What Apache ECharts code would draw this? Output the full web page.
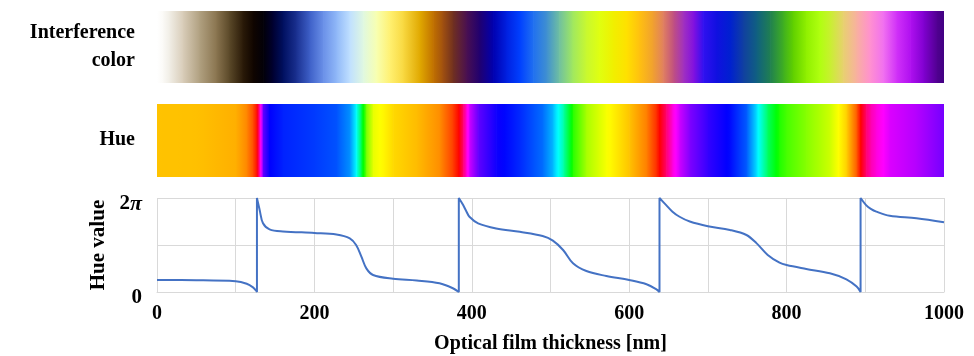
<!DOCTYPE html>
<html>
<head>
<meta charset="utf-8">
<title>Interference color and hue</title>
<script src="https://cdn.jsdelivr.net/npm/echarts@6/dist/echarts.min.js"></script>
<style>
  html, body { margin: 0; padding: 0; background: #ffffff; }
  #chart { width: 974px; height: 356px; }
</style>
</head>
<body>
<div id="chart"></div>
<script>
// hue value curve (thickness in nm, hue in radians)
const thickness = [
  0, 50, 100, 114, 122, 126, 127, 127, 130.5, 134.7, 143, 160, 200, 228, 245, 253, 259.7, 266, 274.5,
  300, 330, 359, 376, 383.5, 383.5, 389, 393, 397, 408, 431, 461, 490, 503, 516, 528.6, 545.6, 571,
  600, 622, 634.6, 638.5, 638.5, 647, 655, 664, 677, 700, 728, 749, 762, 776, 791, 800, 825, 855,
  876, 889, 894, 894, 901, 907, 914, 931, 965, 1000
];
const hueValue = [
  0.80, 0.79, 0.72, 0.55, 0.31, 0.09, 0, 6.28, 5.47, 4.59, 4.19, 4.05, 3.95, 3.85, 3.59, 3.14, 2.36, 1.58, 1.14,
  0.89, 0.77, 0.58, 0.25, 0, 6.28, 5.81, 5.40, 5.03, 4.59, 4.25, 4.02, 3.74, 3.43, 2.81, 1.92, 1.40, 1.07,
  0.80, 0.52, 0.18, 0, 6.28, 5.81, 5.37, 5.03, 4.71, 4.40, 4.15, 3.81, 3.25, 2.48, 1.96, 1.80, 1.54, 1.25,
  0.85, 0.36, 0, 6.28, 5.81, 5.56, 5.37, 5.09, 4.93, 4.66
];

// interference colour strip, colour stops along the thickness axis
const filmThickness = [
  0, 7, 16, 33, 54, 75, 92, 109, 122, 135, 147, 160, 177, 194, 211, 228, 245, 262, 279, 296,
  313, 334, 351, 363, 376, 393, 410, 427, 444, 461, 478, 495, 511, 528, 545, 562, 579, 597,
  613, 630, 643, 656, 669, 682, 694, 711, 728, 745, 762, 779, 796, 808, 825, 842, 855, 872,
  889, 906, 923, 940, 957, 974, 991, 1000
];
const filmColors = [
  '#ffffff', '#fbfaf7', '#f0ede5', '#d8ccb8', '#b0a080', '#8a7550', '#5a4828', '#2a1a08', '#100500', '#020008',
  '#000030', '#001060', '#1a3090', '#3e60c8', '#6a90e8', '#90b8f8', '#c0e0ff', '#e0f8e0', '#f8ffb0', '#fff070',
  '#f8d840', '#e0a800', '#c07000', '#a05010', '#703020', '#4a1050', '#200070', '#0000b0', '#0020e0', '#0040ff',
  '#2070f0', '#4090d0', '#70c0a0', '#a0e860', '#c8f830', '#e0ff10', '#f0f000', '#ffe000', '#ffc010', '#f0a030',
  '#e08060', '#c05080', '#a030c0', '#8010e0', '#3010f0', '#1010e0', '#0020d0', '#1040a0', '#106080', '#208050',
  '#40b020', '#60d000', '#90f000', '#b0ff10', '#c8f030', '#e8d070', '#f8b0a0', '#ff90d0', '#f070f0', '#d030f8',
  '#b010f0', '#8000d0', '#500090', '#400080'
];

const xTicks = [0, 200, 400, 600, 800, 1000];

const serif = '"Liberation Serif", "Times New Roman", serif';
const gridColor = '#d9d9d9';

function hueColor(rad) {
  const h = ((rad / (2 * Math.PI)) * 360) % 360;
  const f = (n) => {
    const k = (n + h / 30) % 12;
    const c = 0.5 - 0.5 * Math.max(-1, Math.min(k - 3, 9 - k, 1));
    return Math.round(c * 255);
  };
  return 'rgb(' + f(0) + ',' + f(8) + ',' + f(4) + ')';
}

// segments for the two colour strips
const filmSegments = [];
for (let i = 0; i < filmThickness.length - 1; i++) {
  filmSegments.push([filmThickness[i], filmThickness[i + 1], i]);
}
const hueSegments = [];
for (let i = 0; i < thickness.length - 1; i++) {
  if (thickness[i + 1] > thickness[i]) {
    hueSegments.push([thickness[i], thickness[i + 1], i]);
  }
}

function filmStops(i) {
  return [{ offset: 0, color: filmColors[i] }, { offset: 1, color: filmColors[i + 1] }];
}

function hueStops(i) {
  const stops = [];
  const steps = 6;
  for (let s = 0; s <= steps; s++) {
    const v = hueValue[i] + (hueValue[i + 1] - hueValue[i]) * (s / steps);
    stops.push({ offset: s / steps, color: hueColor(v) });
  }
  return stops;
}

function stripRenderer(stopsFor) {
  return function (params, api) {
    const a = api.coord([api.value(0), 1]);
    const b = api.coord([api.value(1), 0]);
    return {
      type: 'rect',
      shape: { x: a[0], y: a[1], width: b[0] - a[0] + 0.7, height: b[1] - a[1] },
      style: { fill: new echarts.graphic.LinearGradient(0, 0, 1, 0, stopsFor(api.value(2))) }
    };
  };
}

const hiddenX = (gridIndex) => ({ type: 'value', gridIndex, min: 0, max: 1000, show: false });
const hiddenY = (gridIndex) => ({ type: 'value', gridIndex, min: 0, max: 1, show: false });

const chart = echarts.init(document.getElementById('chart'));
chart.setOption({
  animation: false,
  backgroundColor: '#ffffff',
  grid: [
    { left: 157, right: 30, top: 11, height: 72, outerBoundsMode: 'none', containLabel: false },
    { left: 157, right: 30, top: 104, height: 73, outerBoundsMode: 'none', containLabel: false },
    { left: 157, right: 30, top: 198, height: 94, outerBoundsMode: 'none', containLabel: false }
  ],
  xAxis: [
    hiddenX(0),
    hiddenX(1),
    {
      type: 'value',
      gridIndex: 2,
      min: 0,
      max: 1000,
      interval: 100,
      name: 'Optical film thickness [nm]',
      nameLocation: 'middle',
      nameGap: 42,
      nameTextStyle: { fontFamily: serif, fontWeight: 'bold', fontSize: 20, color: '#000' },
      axisLine: { show: true, lineStyle: { color: gridColor, width: 1 } },
      axisTick: { show: false },
      axisLabel: {
        margin: 12,
        fontFamily: serif,
        fontWeight: 'bold',
        fontSize: 20,
        color: '#000',
        formatter: (v) => (xTicks.includes(v) ? String(v) : '')
      },
      splitLine: { show: true, lineStyle: { color: gridColor, width: 1 } }
    }
  ],
  yAxis: [
    hiddenY(0),
    hiddenY(1),
    {
      type: 'value',
      gridIndex: 2,
      min: 0,
      max: 6.2832,
      interval: 3.1416,
      name: 'Hue value',
      nameLocation: 'middle',
      nameGap: 48,
      nameTextStyle: { fontFamily: serif, fontWeight: 'bold', fontSize: 21, color: '#000' },
      axisLine: { show: false },
      axisTick: { show: false },
      axisLabel: {
        margin: 15,
        padding: [12, 0, 0, 0],
        fontFamily: serif,
        fontWeight: 'bold',
        fontSize: 21,
        color: '#000',
        formatter: (v) => (v === 0 ? '0' : v > 6 ? '2{p|π}' : ''),
        rich: {
          p: { fontFamily: serif, fontWeight: 'bold', fontStyle: 'italic', fontSize: 22, color: '#000' }
        }
      },
      splitLine: { show: true, lineStyle: { color: gridColor, width: 1 } }
    }
  ],
  graphic: [
    {
      type: 'text',
      x: 135,
      y: 47,
      style: {
        text: 'Interference\ncolor',
        align: 'right',
        verticalAlign: 'middle',
        lineHeight: 28,
        font: 'bold 20px ' + serif,
        fill: '#000'
      }
    },
    {
      type: 'text',
      x: 135,
      y: 140,
      style: {
        text: 'Hue',
        align: 'right',
        verticalAlign: 'middle',
        font: 'bold 20px ' + serif,
        fill: '#000'
      }
    }
  ],
  series: [
    {
      type: 'custom',
      xAxisIndex: 0,
      yAxisIndex: 0,
      clip: true,
      renderItem: stripRenderer(filmStops),
      encode: { x: [0, 1] },
      data: filmSegments
    },
    {
      type: 'custom',
      xAxisIndex: 1,
      yAxisIndex: 1,
      clip: true,
      renderItem: stripRenderer(hueStops),
      encode: { x: [0, 1] },
      data: hueSegments
    },
    {
      type: 'line',
      xAxisIndex: 2,
      yAxisIndex: 2,
      showSymbol: false,
      smooth: 0.35,
      clip: true,
      lineStyle: { color: '#4472c4', width: 2 },
      data: thickness.map((t, i) => [t, hueValue[i]])
    }
  ]
});
</script>
</body>
</html>
